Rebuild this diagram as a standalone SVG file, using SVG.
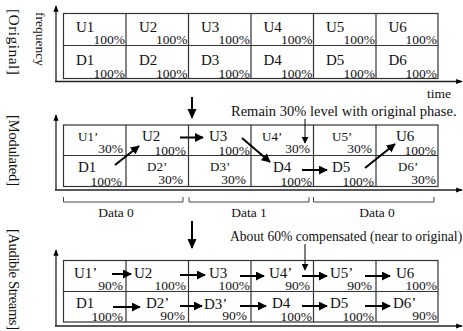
<svg xmlns="http://www.w3.org/2000/svg" width="463" height="331" viewBox="0 0 463 331">
<defs>
<style>
text{font-family:"Liberation Serif","Times New Roman",serif;fill:#111}
.big{font-size:15px}
.sm{font-size:13px}
.pc{font-size:13.5px;text-anchor:end}
.lbl{font-size:13.5px}
.side{font-size:14.5px}
.grid{fill:#fff;stroke:#333;stroke-width:1.2}
.gl{stroke:#333;stroke-width:1.2;fill:none}
.ax{stroke:#222;stroke-width:1.3;fill:none}
.ar{stroke:#000;stroke-width:2;fill:none}
.thin{stroke:#000;stroke-width:1;fill:none}
.br{stroke:#444;stroke-width:1;fill:none}
</style>
<marker id="ah" viewBox="0 0 10 10" refX="9" refY="5" markerWidth="4.5" markerHeight="4.5" orient="auto" markerUnits="strokeWidth"><path d="M0,0L10,5L0,10z" fill="#000"/></marker>
<marker id="ahs" viewBox="0 0 10 10" refX="9" refY="5" markerWidth="7" markerHeight="7" orient="auto" markerUnits="strokeWidth"><path d="M0,0L10,5L0,10z" fill="#000"/></marker>
<marker id="axh" viewBox="0 0 10 10" refX="9" refY="5" markerWidth="5" markerHeight="5" orient="auto" markerUnits="strokeWidth"><path d="M0,1L10,5L0,9z" fill="#000"/></marker>
<marker id="dh" viewBox="0 0 10 10" refX="9" refY="5" markerWidth="5" markerHeight="5" orient="auto" markerUnits="strokeWidth"><path d="M0,0.5L10,5L0,9.5z" fill="#000"/></marker>
</defs>
<rect width="463" height="331" fill="#fff"/>

<!-- side labels -->
<g id="labels">
<text class="side" style="font-size:15.5px" transform="translate(9,9) rotate(90)" textLength="66" lengthAdjust="spacing">[Original]</text>
<text class="lbl" transform="translate(36,12) rotate(90)">frequency</text>
<text class="side" transform="translate(9,115) rotate(90)" textLength="71" lengthAdjust="spacing">[Modulated]</text>
<text class="side" transform="translate(9,229) rotate(90)" textLength="101" lengthAdjust="spacing">[Audible Streams]</text>
<text class="lbl" x="427" y="98">time</text>
</g>

<!-- axes -->
<g id="axes">
<path class="ax" d="M56,82V6" marker-end="url(#axh)"/>
<path class="ax" d="M55,81.5H462" marker-end="url(#axh)"/>
<path class="ax" d="M56,190V115" marker-end="url(#axh)"/>
<path class="ax" d="M55,190H462" marker-end="url(#axh)"/>
<path class="ax" d="M56,326V250" marker-end="url(#axh)"/>
<path class="ax" d="M55,326H462" marker-end="url(#axh)"/>
</g>

<!-- grids -->
<g id="grid-original">
<rect class="grid" x="63.5" y="13.5" width="374.5" height="65"/>
<path class="gl" d="M63.5,45.5H438M126,13.5V78.5M188.5,13.5V78.5M251,13.5V78.5M313.5,13.5V78.5M376,13.5V78.5"/>
</g>
<g id="grid-modulated">
<rect class="grid" x="63.5" y="125" width="374.5" height="61.5"/>
<path class="gl" d="M63.5,155.5H438M126,125V186.5M188.5,125V186.5M251,125V186.5M313.5,125V186.5M376,125V186.5"/>
</g>
<g id="grid-audible">
<rect class="grid" x="63.5" y="260.5" width="374.5" height="61.5"/>
<path class="gl" d="M63.5,291.5H438M126,260.5V322M188.5,260.5V322M251,260.5V322M313.5,260.5V322M376,260.5V322"/>
</g>

<!-- Original cells -->
<g id="o-U1"><text class="big" x="76" y="32">U1</text><text class="pc" x="125" y="44">100%</text></g>
<g id="o-U2"><text class="big" x="139" y="32">U2</text><text class="pc" x="187.5" y="44">100%</text></g>
<g id="o-U3"><text class="big" x="201" y="32">U3</text><text class="pc" x="250" y="44">100%</text></g>
<g id="o-U4"><text class="big" x="263.5" y="32">U4</text><text class="pc" x="312.5" y="44">100%</text></g>
<g id="o-U5"><text class="big" x="326" y="32">U5</text><text class="pc" x="375" y="44">100%</text></g>
<g id="o-U6"><text class="big" x="388.5" y="32">U6</text><text class="pc" x="437" y="44">100%</text></g>
<g id="o-D1"><text class="big" x="76" y="65">D1</text><text class="pc" x="125" y="77.5">100%</text></g>
<g id="o-D2"><text class="big" x="139" y="65">D2</text><text class="pc" x="187.5" y="77.5">100%</text></g>
<g id="o-D3"><text class="big" x="201" y="65">D3</text><text class="pc" x="250" y="77.5">100%</text></g>
<g id="o-D4"><text class="big" x="263.5" y="65">D4</text><text class="pc" x="312.5" y="77.5">100%</text></g>
<g id="o-D5"><text class="big" x="326" y="65">D5</text><text class="pc" x="375" y="77.5">100%</text></g>
<g id="o-D6"><text class="big" x="388.5" y="65">D6</text><text class="pc" x="437" y="77.5">100%</text></g>

<!-- Modulated cells -->
<g id="m-U1"><text class="sm" x="78" y="141">U1’</text><text class="pc" x="123" y="153">30%</text></g>
<g id="m-U2"><text class="big" x="142" y="141">U2</text><text class="pc" x="186" y="155">100%</text></g>
<g id="m-U3"><text class="big" x="209" y="141">U3</text><text class="pc" x="250" y="155">100%</text></g>
<g id="m-U4"><text class="sm" x="262" y="141">U4’</text><text class="pc" x="310" y="153">30%</text></g>
<g id="m-U5"><text class="sm" x="332" y="141">U5’</text><text class="pc" x="372" y="153">30%</text></g>
<g id="m-U6"><text class="big" x="396" y="141">U6</text><text class="pc" x="436" y="155">100%</text></g>
<g id="m-D1"><text class="big" x="78" y="172">D1</text><text class="pc" x="122" y="185.5">100%</text></g>
<g id="m-D2"><text class="sm" x="147" y="171">D2’</text><text class="pc" x="183" y="184">30%</text></g>
<g id="m-D3"><text class="sm" x="210" y="171">D3’</text><text class="pc" x="246" y="184">30%</text></g>
<g id="m-D4"><text class="big" x="273" y="172">D4</text><text class="pc" x="312" y="186">100%</text></g>
<g id="m-D5"><text class="big" x="332" y="172">D5</text><text class="pc" x="374" y="186">100%</text></g>
<g id="m-D6"><text class="sm" x="398" y="171">D6’</text><text class="pc" x="436" y="184">30%</text></g>

<!-- Audible cells -->
<g id="a-U1"><text class="big" x="74" y="278">U1’</text><text class="pc" x="123" y="289.5">90%</text></g>
<g id="a-U2"><text class="big" x="134" y="278">U2</text><text class="pc" x="186" y="290">100%</text></g>
<g id="a-U3"><text class="big" x="209" y="278">U3</text><text class="pc" x="250" y="290">100%</text></g>
<g id="a-U4"><text class="big" x="269" y="278">U4’</text><text class="pc" x="310" y="289.5">90%</text></g>
<g id="a-U5"><text class="big" x="330" y="278">U5’</text><text class="pc" x="372" y="289.5">90%</text></g>
<g id="a-U6"><text class="big" x="396" y="278">U6</text><text class="pc" x="437" y="290">100%</text></g>
<g id="a-D1"><text class="big" x="76" y="308">D1</text><text class="pc" x="123" y="321">100%</text></g>
<g id="a-D2"><text class="big" x="146" y="308">D2’</text><text class="pc" x="185" y="320">90%</text></g>
<g id="a-D3"><text class="big" x="204" y="309">D3’</text><text class="pc" x="247" y="320">90%</text></g>
<g id="a-D4"><text class="big" x="272" y="308">D4</text><text class="pc" x="312" y="321">100%</text></g>
<g id="a-D5"><text class="big" x="330" y="308">D5</text><text class="pc" x="374" y="321">100%</text></g>
<g id="a-D6"><text class="big" x="393" y="308">D6’</text><text class="pc" x="437" y="320">90%</text></g>

<!-- annotations -->
<g id="notes">
<text style="font-size:14.5px" x="231" y="116">Remain 30% level with original phase.</text>
<text style="font-size:13.6px" x="230" y="241">About 60% compensated (near to original)</text>
<g id="brackets">
<path class="br" d="M63.5,197V202H183V197"/>
<path class="br" d="M189,197V202H309V197"/>
<path class="br" d="M313.5,197V202H434V197"/>
</g>
<text class="lbl" x="116" y="217" text-anchor="middle">Data 0</text>
<text class="lbl" x="249" y="217" text-anchor="middle">Data 1</text>
<text class="lbl" x="377" y="217" text-anchor="middle">Data 0</text>
</g>

<!-- connectors -->
<g id="connectors">
<path class="ar" d="M192,97V118" marker-end="url(#dh)"/>
<path class="ar" d="M192,221V248" marker-end="url(#dh)"/>
<path class="thin" d="M305,119V143" marker-end="url(#ahs)"/>
<path class="thin" d="M305,244V270" marker-end="url(#ahs)"/>
<!-- modulated -->
<path class="ar" d="M115,165L139,146" marker-end="url(#ah)"/>
<path class="ar" d="M180,137.5H203" marker-end="url(#ah)"/>
<path class="ar" d="M242,138L270,162" marker-end="url(#ah)"/>
<path class="ar" d="M302,170H327" marker-end="url(#ah)"/>
<path class="ar" d="M365,168L395,144" marker-end="url(#ah)"/>
<!-- audible -->
<path class="ar" d="M112,274H131" marker-end="url(#ah)"/>
<path class="ar" d="M180,275H205" marker-end="url(#ah)"/>
<path class="ar" d="M240,276H264" marker-end="url(#ah)"/>
<path class="ar" d="M302,276H327" marker-end="url(#ah)"/>
<path class="ar" d="M365,276H390" marker-end="url(#ah)"/>
<path class="ar" d="M113,307H140" marker-end="url(#ah)"/>
<path class="ar" d="M180,306H202" marker-end="url(#ah)"/>
<path class="ar" d="M240,306H266" marker-end="url(#ah)"/>
<path class="ar" d="M302,306H327" marker-end="url(#ah)"/>
<path class="ar" d="M365,306H390" marker-end="url(#ah)"/>
</g>
</svg>
